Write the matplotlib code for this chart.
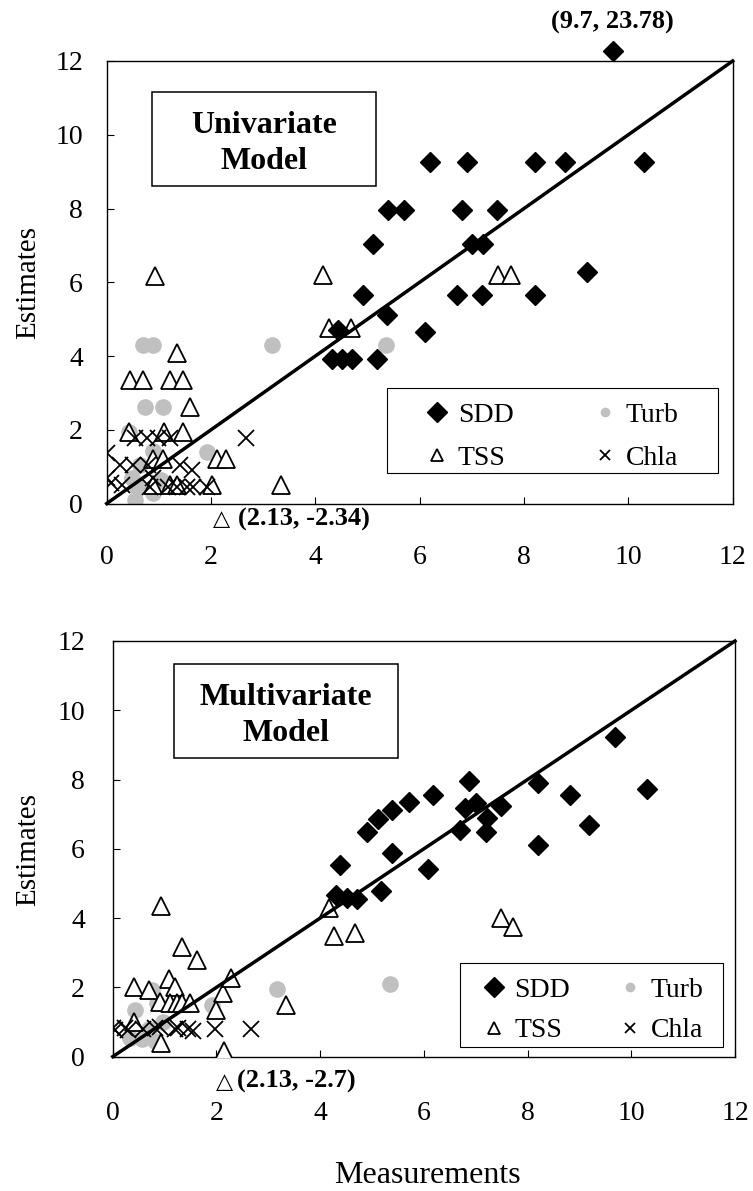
import matplotlib
matplotlib.use('Agg')
import matplotlib.pyplot as plt
from matplotlib.patches import Rectangle

plt.rcParams['font.family'] = ['Liberation Serif', 'DejaVu Sans']

# ---------- univariate model (top) ----------
sdd_x_top = [9.71, 6.20, 6.90, 8.21, 8.78, 10.30, 5.40, 5.69, 6.82, 7.49, 5.11, 7.00, 7.22,
             9.20, 4.91, 6.71, 7.19, 8.21, 5.38, 6.11, 4.44, 4.31, 4.52, 4.70, 5.19]
sdd_y_top = [12.27, 9.26, 9.26, 9.26, 9.26, 9.26, 7.97, 7.97, 7.97, 7.97, 7.03, 7.03, 7.03,
             6.28, 5.65, 5.65, 5.65, 5.65, 5.11, 4.66, 4.70, 3.93, 3.93, 3.93, 3.93]

tss_x_top = [0.93, 4.15, 7.51, 7.75, 4.27, 4.68, 1.35, 0.45, 0.69, 1.21, 1.46, 1.60, 0.43,
             1.09, 1.47, 0.89, 1.08, 2.11, 2.29, 3.35, 0.89, 1.21, 1.34, 2.01]
tss_y_top = [6.18, 6.19, 6.19, 6.19, 4.75, 4.75, 4.07, 3.35, 3.35, 3.35, 3.35, 2.62, 1.95,
             1.95, 1.95, 1.22, 1.22, 1.22, 1.22, 0.50, 0.50, 0.50, 0.50, 0.50]

turb_x_top = [0.70, 0.88, 3.16, 5.35, 0.73, 1.07, 0.43, 0.88, 1.92, 0.48, 0.64, 0.58, 0.89, 0.54, 1.05]
turb_y_top = [4.30, 4.30, 4.30, 4.30, 2.61, 2.61, 1.95, 1.43, 1.40, 0.68, 1.04, 0.46, 0.28, 0.09, 0.64]

chla_x_top = [0.0, 0.0, 0.29, 0.54, 0.77, 0.99, 1.21, 2.68, 0.25, 0.50, 0.80, 1.40, 1.63,
              0.89, 0.83, 1.18, 1.34, 1.53, 1.66, 1.92, 0.08]
chla_y_top = [1.38, 0.68, 0.50, 1.79, 1.79, 1.79, 1.79, 1.77, 1.05, 1.05, 1.05, 1.05, 0.90,
              0.68, 0.44, 0.44, 0.44, 0.44, 0.44, 0.44, 0.55]

# ---------- multivariate model (bottom) ----------
sdd_x_bot = [9.69, 10.31, 6.87, 8.21, 8.81, 6.18, 5.72, 5.39, 5.12, 4.91, 6.79, 7.01, 7.48,
             7.21, 6.69, 7.19, 9.18, 8.20, 5.39, 4.38, 6.08, 5.18, 4.30, 4.51, 4.72]
sdd_y_bot = [9.23, 7.73, 7.95, 7.90, 7.56, 7.54, 7.35, 7.11, 6.87, 6.49, 7.18, 7.32, 7.25,
             6.89, 6.55, 6.50, 6.70, 6.10, 5.88, 5.54, 5.42, 4.77, 4.67, 4.58, 4.56]

tss_x_bot = [4.17, 4.27, 4.68, 7.48, 7.72, 3.35, 0.93, 1.33, 1.62, 0.41, 0.69, 1.09, 1.20,
             0.91, 1.10, 1.23, 1.33, 1.49, 2.13, 2.00, 2.28, 0.41, 0.93, 2.14]
tss_y_bot = [4.29, 3.47, 3.58, 4.00, 3.74, 1.49, 4.36, 3.16, 2.79, 2.02, 1.93, 2.24, 2.02,
             1.59, 1.54, 1.54, 1.54, 1.54, 1.83, 1.35, 2.27, 1.01, 0.39, 0.15]

turb_x_bot = [3.16, 5.34, 0.43, 0.75, 0.85, 1.91, 0.33, 0.56, 0.82, 0.69, 0.97]
turb_y_bot = [1.95, 2.10, 1.35, 1.93, 1.54, 1.49, 0.53, 0.50, 0.44, 0.80, 1.00]

chla_x_bot = [0.0, 0.24, 0.59, 0.82, 0.91, 1.20, 1.46, 1.55, 1.97, 2.66, 0.05, 0.30, 1.25]
chla_y_bot = [0.82, 0.82, 0.80, 0.82, 0.85, 0.80, 0.80, 0.75, 0.80, 0.80, 0.78, 0.78, 0.82]

ticks = [0, 2, 4, 6, 8, 10, 12]


def draw_panel(ax, sx, sy, tx, ty, ux, uy, cx, cy, title, title_box, leg_box, leg_anchor,
               colsp, lsp, xpad, ypad):
    ax.plot(ux, uy, 'o', color='#c0c0c0', ms=12, mec='none', zorder=2, label='Turb')
    ax.plot(tx, ty, '^', mfc='white', mec='black', mew=1.3, ms=13.5, zorder=3, label='TSS')
    ax.plot(cx, cy, 'x', color='black', mew=1.3, ms=11, zorder=3, label='Chla')
    ax.plot(sx, sy, 'D', color='black', ms=10.5, zorder=4, clip_on=False, label='SDD')
    ax.plot([0, 12], [0, 12], color='black', lw=2.5, zorder=5, clip_on=False)

    ax.set_xlim(0, 12)
    ax.set_ylim(0, 12)
    ax.set_xticks(ticks)
    ax.set_yticks(ticks)
    ax.tick_params(axis='x', direction='in', length=5, width=0.8, labelsize=20, pad=xpad)
    ax.tick_params(axis='y', direction='in', length=5, width=0.8, labelsize=20, pad=ypad)
    for s in ax.spines.values():
        s.set_linewidth(1.0)

    # model name box
    x0, y0, w, h = title_box
    ax.add_patch(Rectangle((x0, y0), w, h, transform=ax.transAxes, fc='white', ec='black', lw=1.1, zorder=6))
    ax.text(x0 + w / 2, y0 + h / 2 - 0.01, title, transform=ax.transAxes, ha='center', va='center',
            fontsize=23, fontweight='bold', linespacing=1.3, zorder=7)

    # legend box
    x0, y0, w, h = leg_box
    ax.add_patch(Rectangle((x0, y0), w, h, transform=ax.transAxes, fc='white', ec='black', lw=0.8, zorder=6))
    hs, ls = ax.get_legend_handles_labels()
    order = [ls.index(n) for n in ['SDD', 'TSS', 'Turb', 'Chla']]
    leg = ax.legend([hs[i] for i in order], [ls[i] for i in order], ncol=2, frameon=False,
                    loc='upper left', bbox_to_anchor=leg_anchor, fontsize=20, borderpad=0,
                    borderaxespad=0, handlelength=1.1, handletextpad=0.2, columnspacing=colsp,
                    labelspacing=lsp)
    leg.set_zorder(8)
    sizes = {'SDD': 10, 'TSS': 8, 'Turb': 7, 'Chla': 7}
    for hnd, txt in zip(leg.legend_handles, leg.get_texts()):
        hnd.set_markersize(sizes[txt.get_text()])


fig = plt.figure(figsize=(7.53, 11.91), dpi=100)

ax1 = fig.add_axes([0.1417, 0.5772, 0.8313, 0.3716])
draw_panel(ax1, sdd_x_top, sdd_y_top, tss_x_top, tss_y_top, turb_x_top, turb_y_top,
           chla_x_top, chla_y_top, 'Univariate\nModel', (0.0719, 0.7175, 0.358, 0.2115),
           (0.447, 0.0689, 0.529, 0.1928), (0.503, 0.229), 2.75, 0.63, 30, 17)
ax1.text(9.7, 13.05, '(9.7, 23.78)', ha='center', va='center', fontsize=19, fontweight='bold', clip_on=False)
ax1.text(2.21, -0.43, '\u25b3', ha='center', va='center', fontsize=16, family=['DejaVu Sans'], clip_on=False)
ax1.text(2.52, -0.43, '(2.13, -2.34)', ha='left', va='center', fontsize=19, fontweight='bold', clip_on=False)

ax2 = fig.add_axes([0.1497, 0.1128, 0.8264, 0.3490])
draw_panel(ax2, sdd_x_bot, sdd_y_bot, tss_x_bot, tss_y_bot, turb_x_bot, turb_y_bot,
           chla_x_bot, chla_y_bot, 'Multivariate\nModel', (0.0985, 0.718, 0.3605, 0.226),
           (0.558, 0.0233, 0.423, 0.2013), (0.5875, 0.191), 1.6, 0.55, 32, 20)
ax2.text(2.16, -0.72, '\u25b3', ha='center', va='center', fontsize=16, family=['DejaVu Sans'], clip_on=False)
ax2.text(2.39, -0.72, '(2.13, -2.7)', ha='left', va='center', fontsize=19, fontweight='bold', clip_on=False)

fig.text(0.037, 0.763, 'Estimates', rotation=90, ha='center', va='center', fontsize=21)
fig.text(0.037, 0.287, 'Estimates', rotation=90, ha='center', va='center', fontsize=21)
fig.text(0.568, 0.0134, 'Measurements', ha='center', va='center', fontsize=23)

fig.savefig('out.png', dpi=100)
